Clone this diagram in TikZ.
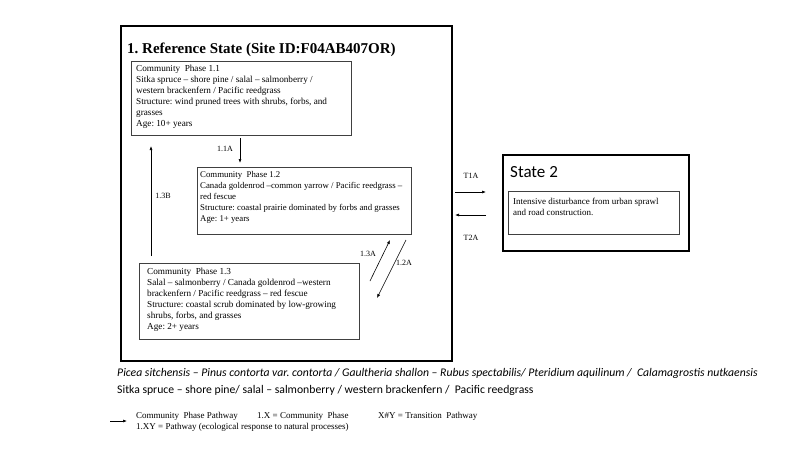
\documentclass[tikz,border=0pt]{standalone}
\usepackage{fontspec}
\setmainfont{Liberation Serif}
\newfontfamily\calib{Carlito}
\usetikzlibrary{arrows.meta,calc}
\frenchspacing
\begin{document}
\begin{tikzpicture}[x=1pt,y=-1pt,
  statebox/.style={draw=black,line width=1.6pt,anchor=north west,inner sep=0pt},
  phasebox/.style={draw=black!75,line width=0.7pt,anchor=north west,inner sep=0pt},
  ptext/.style={anchor=north west,align=left,inner sep=0pt,font=\fontsize{9.2}{11}\selectfont},
  lbl/.style={inner sep=0pt,font=\fontsize{8}{9}\selectfont},
  arr/.style={-{Latex[length=4pt,width=3pt]},line width=0.6pt},
  legtext/.style={anchor=west,inner sep=0pt,font=\fontsize{9}{11}\selectfont}]
\useasboundingbox (0,0) rectangle (800,450);
\fill[white] (0,0) rectangle (800,450);
% outer reference state
\node[statebox,minimum width=331pt,minimum height=335pt] (ref) at (120,25) {};
\node[anchor=base west,inner sep=0pt,font=\fontsize{15}{17}\selectfont\bfseries] (title) at (127,53) {1. Reference State (Site ID:F04AB407OR)};
% phase 1.1
\node[phasebox,minimum width=220pt,minimum height=74pt] (p11) at (131,61) {};
\node[ptext] (t11) at (136,64.5) {Community\ \ Phase 1.1\\Sitka spruce – shore pine / salal – salmonberry /\\western brackenfern / Pacific reedgrass\\Structure: wind pruned trees with shrubs, forbs, and\\grasses\\Age: 10+ years};
% phase 1.2
\node[phasebox,minimum width=214pt,minimum height=67pt] (p12) at (197,167) {};
\node[ptext,font=\fontsize{8.8}{11}\selectfont] (t12) at (200,171) {Community\ \ Phase 1.2\\Canada goldenrod\ –common yarrow / Pacific reedgrass –\\red fescue\\Structure: coastal prairie dominated by forbs and grasses\\Age: 1+ years};
% phase 1.3
\node[phasebox,minimum width=220pt,minimum height=76pt] (p13) at (139,263) {};
\node[ptext] (t13) at (147,268) {Community\ \ Phase 1.3\\Salal – salmonberry / Canada goldenrod\ –western\\brackenfern / Pacific reedgrass – red fescue\\Structure: coastal scrub dominated by low-growing\\shrubs, forbs, and grasses\\Age: 2+ years};
% state 2
\node[statebox,minimum width=186pt,minimum height=96pt] (s2) at (502,154) {};
\node[anchor=base west,inner sep=0pt,font=\calib\fontsize{17}{19}\selectfont] (s2title) at (510,177) {State 2};
\node[phasebox,minimum width=171pt,minimum height=43pt] (s2in) at (508,191) {};
\node[ptext,font=\fontsize{9}{11}\selectfont] (s2t) at (513,198) {Intensive disturbance from urban sprawl\\and road construction.};
% pathway arrows
\coordinate (a11s) at (240,138);
\coordinate (a11e) at (240,163);
\draw[arr] (a11s) -- (a11e);
\node[lbl] (l11) at (225,149) {1.1A};
\coordinate (a13bs) at (151,256);
\coordinate (a13be) at (151,146);
\draw[arr] (a13bs) -- (a13be);
\node[lbl] (l13b) at (163,196) {1.3B};
\coordinate (a13as) at (370,281);
\coordinate (a13ae) at (390,240);
\draw[arr] (a13as) -- (a13ae);
\node[lbl] (l13a) at (368,254) {1.3A};
\coordinate (a12s) at (406,240);
\coordinate (a12e) at (377,298);
\draw[arr] (a12s) -- (a12e);
\node[lbl] (l12) at (404,263) {1.2A};
% transitions
\coordinate (t1s) at (455,192);
\coordinate (t1e) at (486,192);
\draw[arr] (t1s) -- (t1e);
\node[lbl] (lt1) at (471,176) {T1A};
\coordinate (t2s) at (486,215);
\coordinate (t2e) at (455,215);
\draw[arr] (t2s) -- (t2e);
\node[lbl] (lt2) at (471,238) {T2A};
% species
\node[anchor=base west,inner sep=0pt,font=\calib\fontsize{11.7}{13}\selectfont\itshape] (sci) at (117,376) {Picea sitchensis – Pinus contorta var. contorta / Gaultheria shallon – Rubus spectabilis/ Pteridium aquilinum /\ \ Calamagrostis nutkaensis};
\node[anchor=base west,inner sep=0pt,font=\calib\fontsize{11.7}{13}\selectfont] (com) at (117,393) {Sitka spruce – shore pine/ salal – salmonberry / western brackenfern /\ \ Pacific reedgrass};
% legend
\coordinate (lgs) at (110,421);
\coordinate (lge) at (127,421);
\draw[arr] (lgs) -- (lge);
\node[legtext] (lg1) at (136,416) {Community\ \ Phase Pathway};
\node[legtext] (lg2) at (257,416) {1.X = Community\ \ Phase};
\node[legtext] (lg3) at (378,416) {X\#Y = Transition\ \ Pathway};
\node[legtext] (lg4) at (136,427) {1.XY = Pathway (ecological response to natural processes)};
\end{tikzpicture}
\end{document}
